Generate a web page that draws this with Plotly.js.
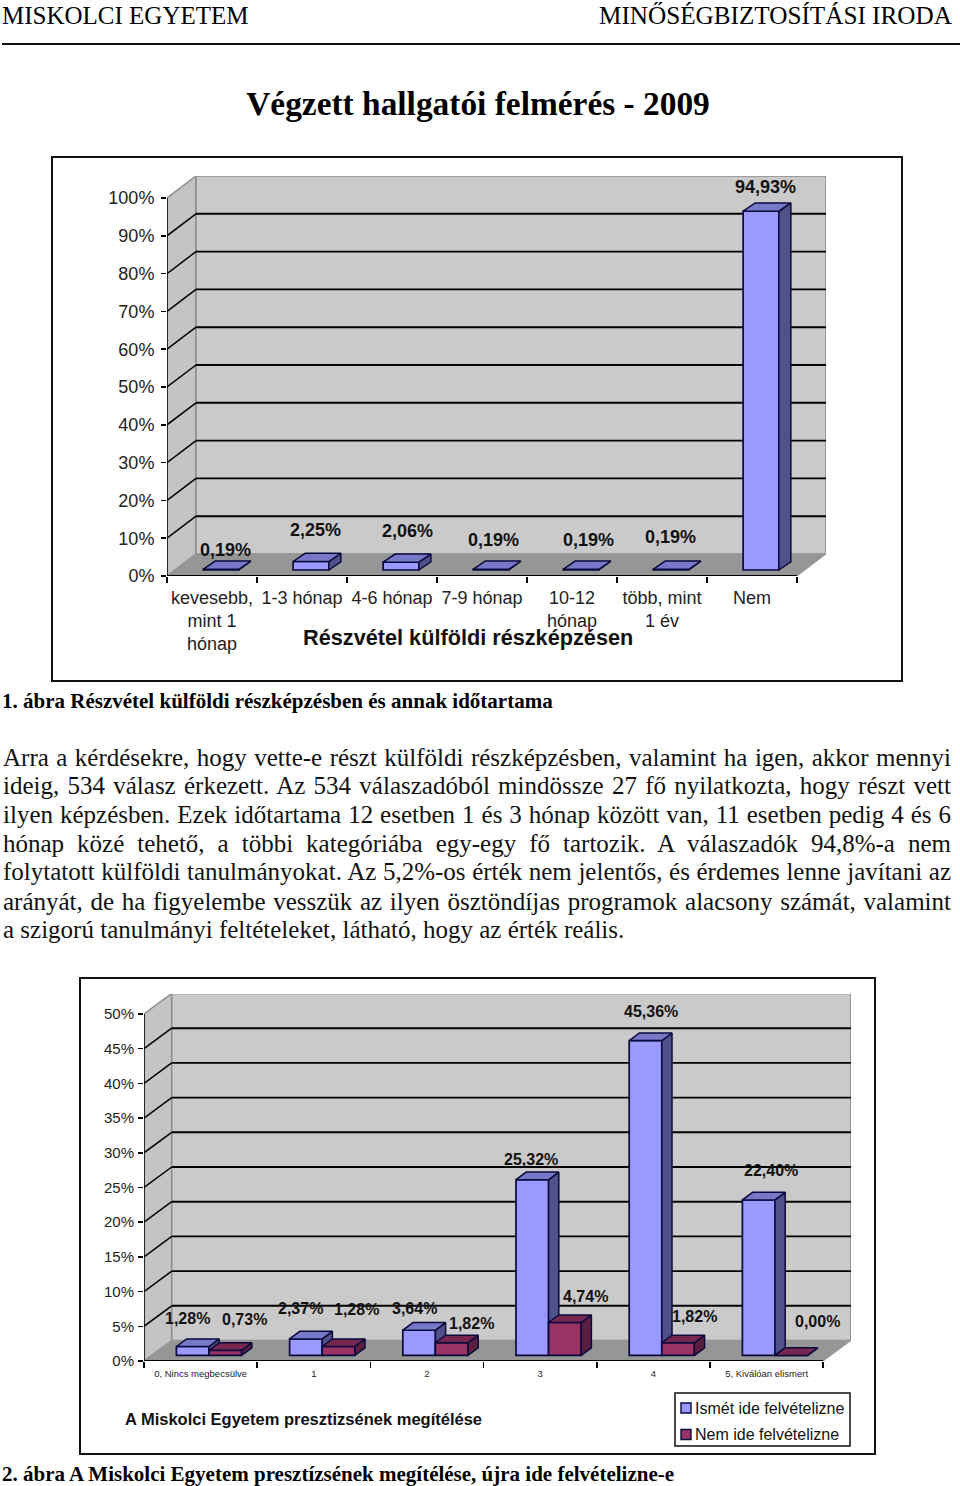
<!DOCTYPE html>
<html>
<head>
<meta charset="utf-8">
<script src="https://cdn.plot.ly/plotly-3.0.1.min.js"></script>
<style>html,body{margin:0;padding:0;background:#fff}</style>
</head>
<body>
<div id="chart" style="width:960px;height:1486px"></div>
<script>
// ---------- data ----------
const durationCats = ["kevesebb,<br>mint 1<br>hónap", "1-3 hónap", "4-6 hónap", "7-9 hónap", "10-12<br>hónap", "több, mint<br>1 év", "Nem"];
const durationVals = [0.19, 2.25, 2.06, 0.19, 0.19, 0.19, 94.93];
const durationTicks = [0, 10, 20, 30, 40, 50, 60, 70, 80, 90, 100];

const prestigeCats = ["0, Nincs megbecsülve", "1", "2", "3", "4", "5, Kiválóan elismert"];
const prestigeAgain = [1.28, 2.37, 3.64, 25.32, 45.36, 22.40];
const prestigeNot = [0.73, 1.28, 1.82, 4.74, 1.82, 0.00];
const prestigeTicks = [0, 5, 10, 15, 20, 25, 30, 35, 40, 45, 50];
const legendNames = ["Ismét ide felvételizne", "Nem ide felvételizne"];

const bodyLines = [
  "Arra a kérdésekre, hogy vette-e részt külföldi részképzésben, valamint ha igen, akkor mennyi",
  "ideig, 534 válasz érkezett. Az 534 válaszadóból mindössze 27 fő nyilatkozta, hogy részt vett",
  "ilyen képzésben. Ezek időtartama 12 esetben 1 és 3 hónap között van, 11 esetben pedig 4 és 6",
  "hónap közé tehető, a többi kategóriába egy-egy fő tartozik. A válaszadók 94,8%-a nem",
  "folytatott külföldi tanulmányokat. Az 5,2%-os érték nem jelentős, és érdemes lenne javítani az",
  "arányát, de ha figyelembe vesszük az ilyen ösztöndíjas programok alacsony számát, valamint",
  "a szigorú tanulmányi feltételeket, látható, hogy az érték reális."
];

// ---------- page geometry and style ----------
const W = 960, H = 1486;
const px = v => v / W, py = v => 1 - v / H;
const SANS = "Liberation Sans, Arial, sans-serif", SERIF = "Liberation Serif, Times New Roman, serif";
const BLUE = {front: "#9999ff", top: "#7878c8", side: "#50508a"};
const MAROON = {front: "#993366", top: "#752750", side: "#5a1e3e"};
const EDGE = "#0a0a3c", WALL = "#cacaca", SIDEWALL = "#c4c4c4", FLOOR = "#969696", BORDER = "#8c8c8c";

const g1 = {xa:"x", ya:"y", x0:167, y0:576, ux:90, uy:3.78, right:826, top:176, n:7,
  dx:29, dy:22, bx:9, by:6, bw:35.7, bdx:12, bdy:8.2};
const g2 = {xa:"x2", ya:"y2", x0:144, y0:1361, ux:113.2, uy:6.94, right:851, top:994, n:6,
  dx:27.7, dy:20.5, bx:8.4, by:5.6, bw:32.6, bdx:10.2, bdy:7.6};

const fmt = v => v.toFixed(2).replace(".", ",") + "%";

// ---------- 3D frame drawn on the data scales ----------
function frameShapes(g, ticks) {
  const X = g.n, DX = g.dx / g.ux, DY = g.dy / g.uy, T = ticks[ticks.length - 1];
  const ref = {xref: g.xa, yref: g.ya, layer: "below"};
  const poly = (pts, fill, col, w) => Object.assign({type:"path",
    path: "M" + pts.map(p => p[0] + "," + p[1]).join("L") + "Z", fillcolor: fill,
    line:{color: col || fill, width: w === undefined ? 1 : w}}, ref);
  const seg = (a, b, col, w) => Object.assign({type:"line", x0:a[0], y0:a[1], x1:b[0], y1:b[1],
    line:{color: col, width: w}}, ref);
  const out = [
    poly([[0,0],[DX,DY],[DX,T+DY],[0,T]], SIDEWALL, BORDER, 1.5),
    poly([[DX,DY],[X+DX,DY],[X+DX,T+DY],[DX,T+DY]], WALL, BORDER, 1.5),
    poly([[0,0],[X,0],[X+DX,DY],[DX,DY]], FLOOR, FLOOR, 1)
  ];
  ticks.slice(1, -1).forEach(t => {
    out.push(seg([0,t],[DX,t+DY],"#000000",1.5));
    out.push(seg([DX,t+DY],[X+DX,t+DY],"#000000",1.9));
  });
  out.push(seg([0,0],[0,T],"#000000",1.5));
  out.push(seg([0,0],[X,0],"#000000",1.8));
  return out;
}

// ---------- bars: front from bar traces, top and side through the same scales ----------
function barFaces(g, vals, offsetUnits, colors, name, xa, ya) {
  const w = g.bw / g.ux, sx = g.bx / g.ux, base = g.by / g.uy, ddx = g.bdx / g.ux, ddy = g.bdy / g.uy;
  const centers = vals.map((_, i) => i + 0.5 + sx + offsetUnits);
  const topX = [], topY = [], sideX = [], sideY = [];
  vals.forEach((v, i) => {
    const l = centers[i] - w / 2, r = centers[i] + w / 2, t = v + base;
    topX.push(l, l + ddx, r + ddx, r, l, null);
    topY.push(t, t + ddy, t + ddy, t, t, null);
    sideX.push(r, r + ddx, r + ddx, r, r, null);
    sideY.push(base, base + ddy, t + ddy, t, base, null);
  });
  const face = (x, y, fill) => ({type:"scatter", mode:"lines", x, y, xaxis:xa, yaxis:ya, fill:"toself",
    fillcolor:fill, line:{color:EDGE, width:1.5}, hoverinfo:"skip", showlegend:false, connectgaps:false});
  return [
    {type:"bar", name, x:centers, y:vals, base:vals.map(() => base), width:vals.map(() => w),
     xaxis:xa, yaxis:ya, marker:{color:colors.front, line:{color:EDGE, width:1.7}},
     showlegend:false, text:vals.map(fmt), textposition:"none", hovertemplate:"%{text}<extra>" + name + "</extra>"},
    face(sideX, sideY, colors.side),
    face(topX, topY, colors.top)
  ];
}

const traces = [
  ...barFaces(g1, durationVals, 0, BLUE, "Részvétel", "x", "y"),
  ...barFaces(g2, prestigeAgain, -g2.bw / g2.ux / 2, BLUE, legendNames[0], "x2", "y2"),
  ...barFaces(g2, prestigeNot, g2.bw / g2.ux / 2, MAROON, legendNames[1], "x3", "y3")
];

// ---------- annotations ----------
const note = (text, x, y, size, opts) => Object.assign({text, xref:"paper", yref:"paper", x:px(x), y:py(y),
  xanchor:"center", yanchor:"middle", showarrow:false, borderpad:0, borderwidth:0,
  font:{family:SANS, size, color:"#111111"}}, opts || {});

const durationLabelPos = [[225,550],[315,530],[407,531],[494,540],[588,540],[670,537],[765,187]];
const prestigeLabelPosA = [[187,1318],[300,1308],[414,1308],[531,1159],[651,1011],[771,1170]];
const prestigeLabelPosB = [[245,1319],[356,1309],[471,1323],[585,1296],[694,1316],[817,1321]];
const bodyY = [757, 785, 814, 843, 872, 901, 930];
const legendY = [1408, 1434];

const annotations = [
  note("MISKOLCI EGYETEM", 2, 16, 25, {xanchor:"left", font:{family:SERIF, size:25, color:"#000"}}),
  note("MINŐSÉGBIZTOSÍTÁSI IRODA", 952, 16, 25.2, {xanchor:"right", font:{family:SERIF, size:25.2, color:"#000"}}),
  note("<b>Részvétel külföldi részképzésen</b>", 468, 637, 21.7),
  note("<b>A Miskolci Egyetem presztizsének megítélése</b>", 303, 1419, 16.5),
  note("<b>1. ábra Részvétel külföldi részképzésben és annak időtartama</b>", 2, 701, 21, {xanchor:"left", font:{family:SERIF, size:21, color:"#000"}}),
  note("<b>2. ábra A Miskolci Egyetem presztízsének megítélése, újra ide felvételizne-e</b>", 2, 1474, 21, {xanchor:"left", font:{family:SERIF, size:21, color:"#000"}}),
  ...durationVals.map((v, i) => note("<b>" + fmt(v) + "</b>", durationLabelPos[i][0], durationLabelPos[i][1], 18)),
  ...prestigeAgain.map((v, i) => note("<b>" + fmt(v) + "</b>", prestigeLabelPosA[i][0], prestigeLabelPosA[i][1], 16)),
  ...prestigeNot.map((v, i) => note("<b>" + fmt(v) + "</b>", prestigeLabelPosB[i][0], prestigeLabelPosB[i][1], 16)),
  ...bodyLines.map((t, i) => note(t, 3, bodyY[i], 25, {xanchor:"left", align:"left", font:{family:SERIF, size:25, color:"#111"}})),
  ...legendNames.map((t, i) => note(t, 695, legendY[i], 16, {xanchor:"left", align:"left"}))
];

// ---------- axes ----------
function xAxis(g, cats, size, len, standoff) {
  const ticks = Array.from({length: g.n + 1}, (_, i) => i);
  return {domain:[px(g.x0), px(g.right)], range:[0, (g.right - g.x0) / g.ux], anchor:g.ya,
    tickmode:"array", tickvals:cats.map((_, i) => i + 0.5), ticktext:cats, tickangle:0,
    ticks:"outside", ticklen:len, tickwidth:0, tickcolor:"rgba(0,0,0,0)", ticklabelstandoff:standoff,
    minor:{tickmode:"array", tickvals:ticks, ticks:"outside", ticklen:6, tickwidth:1.5, tickcolor:"#000"},
    showgrid:false, zeroline:false, showline:false, automargin:false, fixedrange:true,
    tickfont:{family:SANS, size, color:"#222"}};
}
function yAxis(g, ticks, size, standoff) {
  return {domain:[py(g.y0), py(g.top)], range:[0, (g.y0 - g.top) / g.uy], anchor:g.xa,
    tickmode:"array", tickvals:ticks, ticktext:ticks.map(t => t + "%"),
    ticks:"outside", ticklen:5, tickwidth:1.5, tickcolor:"#000", ticklabelstandoff:standoff,
    showgrid:false, zeroline:false, showline:false, automargin:false, fixedrange:true,
    tickfont:{family:SANS, size, color:"#222"}};
}
const paperRect = (x0, y0, x1, y1, col, w, fill) => ({type:"rect", xref:"paper", yref:"paper", layer:"below",
  x0:px(x0), x1:px(x1), y0:py(y1), y1:py(y0), line:{color:col, width:w}, fillcolor:fill});

const layout = {
  width:W, height:H, margin:{l:0, r:0, t:0, b:0, pad:0}, paper_bgcolor:"#fff", plot_bgcolor:"rgba(0,0,0,0)",
  barmode:"overlay", hovermode:false, showlegend:false,
  title:{text:"<b>Végzett hallgatói felmérés - 2009</b>", x:478 / W, xref:"paper", xanchor:"center",
    y:py(103), yref:"paper", yanchor:"middle", font:{family:SERIF, size:33.4, color:"#000"}},
  xaxis:xAxis(g1, durationCats, 18, 2, 3),
  yaxis:yAxis(g1, durationTicks, 18, 3),
  xaxis2:xAxis(g2, prestigeCats, 9.5, 2, 2),
  yaxis2:yAxis(g2, prestigeTicks, 15, 1),
  xaxis3:{overlaying:"x2", range:[0, (g2.right - g2.x0) / g2.ux], visible:false, anchor:"y3", fixedrange:true},
  yaxis3:{overlaying:"y2", range:[0, (g2.y0 - g2.top) / g2.uy], visible:false, anchor:"x3", fixedrange:true},
  annotations,
  shapes:[
    {type:"line", xref:"paper", yref:"paper", x0:px(2), x1:px(960), y0:py(44), y1:py(44), line:{color:"#111", width:2}},
    paperRect(52, 157, 902, 681, "#111", 2, "#fff"),
    paperRect(80, 978, 875, 1454, "#111", 2, "#fff"),
    paperRect(675, 1393, 850, 1446, "#111", 1.5, "#fff"),
    paperRect(681, 1403, 691, 1413, "#0a0a3c", 1.4, BLUE.front),
    paperRect(681, 1429.5, 691, 1439.5, "#0a0a3c", 1.4, MAROON.front),
    ...frameShapes(g1, durationTicks),
    ...frameShapes(g2, prestigeTicks)
  ]
};

Plotly.newPlot("chart", traces, layout, {staticPlot:true, displayModeBar:false}).then(() => {
  // justify the body paragraph: all lines except the last fill the text column
  const target = 948;
  document.querySelectorAll(".annotation-text").forEach(el => {
    const idx = bodyLines.indexOf(el.textContent);
    if (idx < 0 || idx === bodyLines.length - 1) return;
    const gaps = (el.textContent.match(/ /g) || []).length;
    const extra = (target - el.getComputedTextLength()) / gaps;
    el.style.wordSpacing = extra + "px";
  });
});
</script>
</body>
</html>
